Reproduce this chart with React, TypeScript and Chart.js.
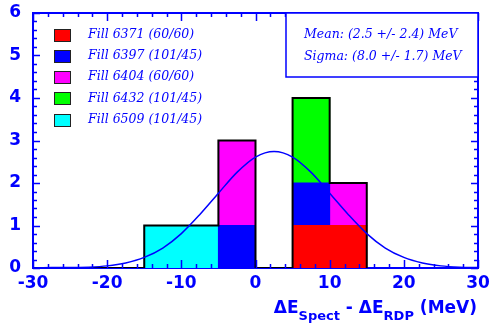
import React, { useEffect, useRef } from 'react';
import { Chart, registerables } from 'chart.js';

Chart.register(...registerables);

// ---- data ----
const binCenters = [-27.5, -22.5, -17.5, -12.5, -7.5, -2.5, 2.5, 7.5, 12.5, 17.5, 22.5, 27.5];
const fill6371 = [0, 0, 0, 0, 0, 0, 0, 1, 1, 0, 0, 0];
const fill6397 = [0, 0, 0, 0, 0, 1, 0, 1, 0, 0, 0, 0];
const fill6404 = [0, 0, 0, 0, 0, 2, 0, 0, 1, 0, 0, 0];
const fill6432 = [0, 0, 0, 0, 0, 0, 0, 2, 0, 0, 0, 0];
const fill6509 = [0, 0, 0, 1, 1, 0, 0, 0, 0, 0, 0, 0];
const seriesLabels = ['Fill 6371 (60/60)', 'Fill 6397 (101/45)', 'Fill 6404 (60/60)', 'Fill 6432 (101/45)', 'Fill 6509 (101/45)'];
const seriesColors = ['#ff0000', '#0000ff', '#ff00ff', '#00ff00', '#00ffff'];
const series = [fill6371, fill6397, fill6404, fill6432, fill6509];

const fitX = [-30, -27.5, -25, -22.5, -20, -17.5, -15, -12.5, -10, -7.5, -5, -2.5, 0, 2.5, 5, 7.5, 10, 12.5, 15, 17.5, 20, 22.5, 25, 27.5, 30];
const fitY = [0.0, 0.01, 0.01, 0.02, 0.05, 0.12, 0.25, 0.47, 0.81, 1.26, 1.76, 2.25, 2.61, 2.74, 2.61, 2.25, 1.76, 1.26, 0.81, 0.47, 0.25, 0.12, 0.05, 0.02, 0.01];

const xTickLabels = [-30, -20, -10, 0, 10, 20, 30];
const yTickLabels = [0, 1, 2, 3, 4, 5, 6];
const statsLines = ['Mean: (2.5 +/- 2.4) MeV', 'Sigma: (8.0 +/- 1.7) MeV'];
const titleParts = [
  { text: '\u0394E', sub: false },
  { text: 'Spect', sub: true },
  { text: ' - \u0394E', sub: false },
  { text: 'RDP', sub: true },
  { text: ' (MeV)', sub: false },
];

const BLUE = '#0000ff';

export default function App() {
  const ref = useRef<HTMLCanvasElement | null>(null);

  useEffect(() => {
    const canvas = ref.current;
    if (!canvas) return;

    const binWidth = binCenters[1] - binCenters[0];
    const totals = binCenters.map((_, i) => series.reduce((s, a) => s + a[i], 0));
    let last = totals.length - 1;
    while (last > 0 && totals[last] === 0) last--;
    const envelope: { x: number; y: number }[] = [];
    for (let i = 0; i <= last; i++) envelope.push({ x: binCenters[i] - binWidth / 2, y: totals[i] });
    envelope.push({ x: binCenters[last] + binWidth / 2, y: 0 });

    const barSets = series.map((arr, k) => ({
      type: 'bar' as const,
      label: seriesLabels[k],
      data: binCenters.map((x, i) => ({ x, y: arr[i] === 0 ? null : arr[i] })),
      backgroundColor: seriesColors[k],
      borderWidth: 0,
      inflateAmount: 0.5,
      barPercentage: 1,
      categoryPercentage: 1,
      order: 2,
    }));

    const framePlugin = {
      id: 'rootFrame',
      beforeDatasetsDraw(chart: any) {
        const { ctx, chartArea: a } = chart;
        ctx.save();
        ctx.strokeStyle = BLUE;
        ctx.lineWidth = 2;
        ctx.strokeRect(a.left, a.top, a.right - a.left, a.bottom - a.top);
        ctx.restore();
      },
      afterDatasetsDraw(chart: any) {
        const { ctx, chartArea: a, scales } = chart;
        const xs = scales.x, ys = scales.y;
        ctx.save();
        ctx.strokeStyle = BLUE;
        ctx.lineWidth = 1.5;
        ctx.beginPath();
        for (let v = -30; v <= 30.001; v += 2) {
          const major = Math.abs(v % 10) < 0.001;
          const len = major ? 8 : 4;
          const px = Math.round(xs.getPixelForValue(v)) + 0.5;
          ctx.moveTo(px, a.bottom);
          ctx.lineTo(px, a.bottom - len);
          ctx.moveTo(px, a.top);
          ctx.lineTo(px, a.top + len);
        }
        for (let i = 0; i <= 30; i++) {
          const v = i * 0.2;
          const major = i % 5 === 0;
          const len = major ? 7 : 4;
          const py = Math.round(ys.getPixelForValue(v)) + 0.5;
          ctx.moveTo(a.left, py);
          ctx.lineTo(a.left + len, py);
          ctx.moveTo(a.right, py);
          ctx.lineTo(a.right - len, py);
        }
        ctx.stroke();

        // stats box
        const bx = a.left + 253;
        const by = a.top;
        const bh = 64;
        ctx.fillStyle = '#ffffff';
        ctx.fillRect(bx, by, a.right - bx, bh);
        ctx.lineWidth = 1.5;
        ctx.strokeRect(bx, by, a.right - bx, bh);
        ctx.fillStyle = BLUE;
        ctx.font = 'italic 12.5px "DejaVu Serif"';
        ctx.textAlign = 'left';
        ctx.textBaseline = 'middle';
        statsLines.forEach((t, i) => ctx.fillText(t, bx + 18, by + 22 + i * 22));

        // legend
        seriesLabels.forEach((lab, i) => {
          const cy = a.top + 21.5 + i * 21.3;
          ctx.fillStyle = seriesColors[i];
          ctx.fillRect(a.left + 21, Math.round(cy - 6), 16, 12);
          ctx.strokeStyle = '#222222';
          ctx.lineWidth = 1;
          ctx.strokeRect(a.left + 21.5, Math.round(cy - 6) + 0.5, 16, 12);
          ctx.fillStyle = BLUE;
          ctx.fillText(lab, a.left + 55, cy);
        });
        ctx.restore();
      },
      afterDraw(chart: any) {
        const { ctx, chartArea: a } = chart;
        ctx.save();
        ctx.fillStyle = BLUE;
        ctx.textBaseline = 'alphabetic';
        ctx.textAlign = 'left';
        const mainFont = 'bold 17px "DejaVu Sans"';
        const subFont = 'bold 13px "DejaVu Sans"';
        let total = 0;
        const widths = titleParts.map((p) => {
          ctx.font = p.sub ? subFont : mainFont;
          const w = ctx.measureText(p.text).width;
          total += w;
          return w;
        });
        let x = a.right - 1 - total;
        const base = 313;
        titleParts.forEach((p, i) => {
          ctx.font = p.sub ? subFont : mainFont;
          ctx.fillText(p.text, x, p.sub ? base + 7 : base);
          x += widths[i];
        });
        ctx.restore();
      },
    };

    const chart = new Chart(canvas, {
      type: 'bar',
      data: {
        datasets: [
          {
            type: 'line' as const,
            label: 'fit',
            data: fitX.map((x, i) => ({ x, y: fitY[i] })),
            borderColor: BLUE,
            borderWidth: 1.5,
            pointRadius: 0,
            fill: false,
            cubicInterpolationMode: 'monotone',
            stack: 'fit',
            order: 0,
          } as any,
          {
            type: 'line' as const,
            label: 'outline',
            data: envelope,
            borderColor: '#000000',
            borderWidth: 2,
            pointRadius: 0,
            fill: false,
            stepped: 'before',
            stack: 'outline',
            order: 1,
          } as any,
          ...barSets,
        ],
      },
      options: {
        animation: false,
        responsive: false,
        devicePixelRatio: 1,
        events: [],
        layout: { padding: { top: 13, right: 11, left: 0, bottom: 0 } },
        plugins: { legend: { display: false }, tooltip: { enabled: false } },
        scales: {
          x: {
            type: 'linear',
            min: -30,
            max: 30,
            offset: false,
            stacked: true,
            afterBuildTicks: (s: any) => {
              s.ticks = xTickLabels.map((v) => ({ value: v }));
            },
            afterFit: (s: any) => {
              s.height = 58;
              s.paddingLeft = 0;
              s.paddingRight = 0;
            },
            grid: { display: false, drawTicks: false, offset: false },
            border: { display: false },
            ticks: {
              color: BLUE,
              font: { family: 'DejaVu Sans', weight: 'bold', size: 17 },
              padding: 5,
              maxRotation: 0,
              autoSkip: false,
            },
          },
          y: {
            type: 'linear',
            min: 0,
            max: 6,
            stacked: true,
            afterBuildTicks: (s: any) => {
              s.ticks = yTickLabels.map((v) => ({ value: v }));
            },
            afterFit: (s: any) => {
              s.width = 33;
              s.paddingTop = 0;
              s.paddingBottom = 0;
            },
            grid: { display: false, drawTicks: false },
            border: { display: false },
            ticks: {
              color: BLUE,
              font: { family: 'DejaVu Sans', weight: 'bold', size: 17 },
              padding: 12,
              autoSkip: false,
            },
          },
        },
      } as any,
      plugins: [framePlugin],
    });

    return () => chart.destroy();
  }, []);

  return (
    <div style={{ position: 'absolute', left: 0, top: 0, width: 489, height: 326, background: '#ffffff' }}>
      <canvas ref={ref} width={489} height={326} style={{ display: 'block' }} />
    </div>
  );
}
